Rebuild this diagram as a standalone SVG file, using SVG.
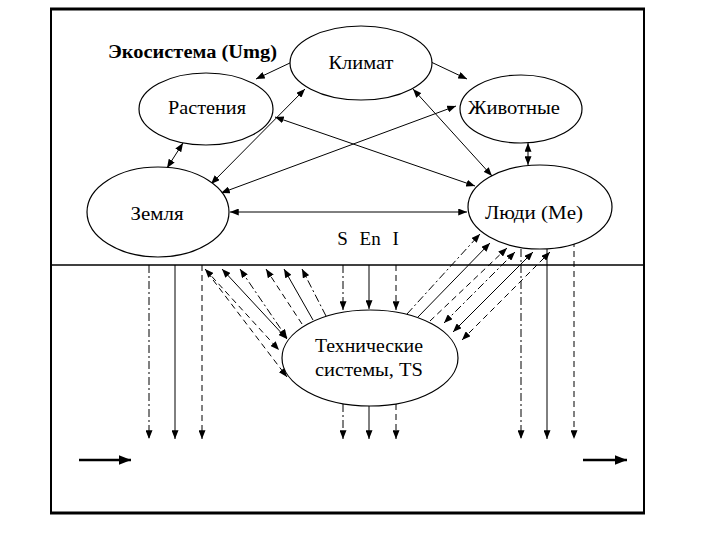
<svg xmlns="http://www.w3.org/2000/svg" width="720" height="540" viewBox="0 0 720 540">
<style>
.bg{fill:#fff}
.node{fill:#fff;stroke:#000;stroke-width:1.2}
.t{font-family:"Liberation Serif","Times New Roman",serif;font-size:19px;fill:#000;text-anchor:middle}
.title{font-family:"Liberation Serif","Times New Roman",serif;font-size:18px;font-weight:bold;fill:#000}
.c{fill:none;stroke:#000;stroke-width:1}
.da{stroke-dasharray:6,4}
.dd{stroke-dasharray:8,3,2,3}
.e{marker-end:url(#ah)}
.b{marker-start:url(#ah);marker-end:url(#ah)}
</style>
<defs>
<marker id="ah" viewBox="0 0 10 8" refX="10" refY="4" markerWidth="9" markerHeight="7" markerUnits="userSpaceOnUse" orient="auto-start-reverse"><path d="M0,0L10,4L0,8z" fill="#000"/></marker>
<marker id="big" viewBox="0 0 10 8" refX="10" refY="4" markerWidth="12" markerHeight="10" markerUnits="userSpaceOnUse" orient="auto"><path d="M0,0L10,4L0,8z" fill="#000"/></marker>
</defs>
<rect class="bg" x="0" y="0" width="720" height="540"/>
<g id="frame" fill="none" stroke="#000">
<line x1="50" y1="9" x2="645" y2="9" stroke-width="3"/>
<line x1="50" y1="513" x2="645" y2="513" stroke-width="3"/>
<line x1="51" y1="9" x2="51" y2="513" stroke-width="2"/>
<line x1="644" y1="9" x2="644" y2="513" stroke-width="2"/>
<line x1="51" y1="265" x2="644" y2="265" stroke-width="1.5"/>
</g>
<text class="title" x="108" y="58" textLength="169" lengthAdjust="spacingAndGlyphs">Экосистема (Umg)</text>
<g id="connectors">
<line class="c e" x1="292" y1="62" x2="256" y2="79"/>
<line class="c e" x1="431" y1="62" x2="467" y2="79"/>
<line class="c b" x1="183" y1="143" x2="167" y2="168"/>
<line class="c b" x1="305" y1="89" x2="211" y2="184"/>
<line class="c b" x1="413" y1="89" x2="492" y2="176"/>
<line class="c b" x1="275" y1="117" x2="475" y2="186"/>
<line class="c b" x1="456" y1="106" x2="221" y2="193"/>
<line class="c b" x1="230" y1="212" x2="467" y2="212"/>
<line class="c b" x1="528" y1="143" x2="528" y2="165" stroke-width="2"/>
<line class="c dd e" x1="149" y1="265" x2="149" y2="439"/>
<line class="c e" x1="175" y1="265" x2="175" y2="439"/>
<line class="c da e" x1="202" y1="265" x2="202" y2="439"/>
<line class="c dd e" x1="343" y1="265" x2="343" y2="310"/>
<line class="c e" x1="369" y1="265" x2="369" y2="309"/>
<line class="c da e" x1="396" y1="265" x2="396" y2="310"/>
<line class="c dd e" x1="343" y1="404" x2="343" y2="439"/>
<line class="c e" x1="369" y1="406" x2="369" y2="439"/>
<line class="c da e" x1="396" y1="404" x2="396" y2="439"/>
<line class="c dd e" x1="521" y1="249" x2="521" y2="439"/>
<line class="c e" x1="547" y1="249" x2="547" y2="439"/>
<line class="c da e" x1="574" y1="241" x2="574" y2="439"/>
<line class="c da b" x1="205" y1="269" x2="279" y2="350"/>
<line class="c da e" x1="207" y1="272" x2="287" y2="377"/>
<line class="c b" x1="222" y1="269" x2="287" y2="339"/>
<line class="c dd b" x1="240" y1="269" x2="287" y2="338"/>
<line class="c da e" x1="302" y1="324" x2="266" y2="269"/>
<line class="c e" x1="313" y1="320" x2="284" y2="269"/>
<line class="c dd e" x1="326" y1="316" x2="302" y2="269"/>
<line class="c dd e" x1="407" y1="314" x2="480" y2="234"/>
<line class="c e" x1="418" y1="317" x2="490" y2="243"/>
<line class="c da e" x1="430" y1="321" x2="507" y2="248"/>
<line class="c dd b" x1="444" y1="323" x2="515" y2="252"/>
<line class="c b" x1="453" y1="332" x2="533" y2="252"/>
<line class="c da b" x1="462" y1="340" x2="550" y2="252"/>
<line x1="79" y1="460" x2="131" y2="460" stroke="#000" stroke-width="2.5" marker-end="url(#big)"/>
<line x1="583" y1="460" x2="627" y2="460" stroke="#000" stroke-width="2.5" marker-end="url(#big)"/>
</g>
<g id="klimat">
<ellipse class="node" cx="361" cy="63" rx="71" ry="37"/>
<text class="t" x="361" y="69" textLength="65" lengthAdjust="spacingAndGlyphs">Климат</text>
</g>
<g id="rasteniya">
<ellipse class="node" cx="206" cy="109" rx="67" ry="36"/>
<text class="t" x="207" y="114" textLength="78" lengthAdjust="spacingAndGlyphs">Растения</text>
</g>
<g id="zhivotnye">
<ellipse class="node" cx="521" cy="109" rx="61" ry="34"/>
<text class="t" x="514" y="114" textLength="92" lengthAdjust="spacingAndGlyphs">Животные</text>
</g>
<g id="zemlya">
<ellipse class="node" cx="158" cy="212" rx="71" ry="45"/>
<text class="t" x="157" y="220" textLength="53" lengthAdjust="spacingAndGlyphs">Земля</text>
</g>
<g id="lyudi">
<ellipse class="node" cx="540" cy="207" rx="72" ry="42"/>
<text class="t" x="534" y="219" textLength="98" lengthAdjust="spacingAndGlyphs">Люди (Me)</text>
</g>
<g id="sei">
<text class="t" x="368" y="245" style="word-spacing:7px">S En I</text>
</g>
<g id="ts">
<ellipse class="node" cx="370" cy="358" rx="88" ry="48"/>
<text class="t" x="369" y="352" textLength="108" lengthAdjust="spacingAndGlyphs">Технические</text>
<text class="t" x="369" y="376" textLength="108" lengthAdjust="spacingAndGlyphs">системы, TS</text>
</g>
</svg>
